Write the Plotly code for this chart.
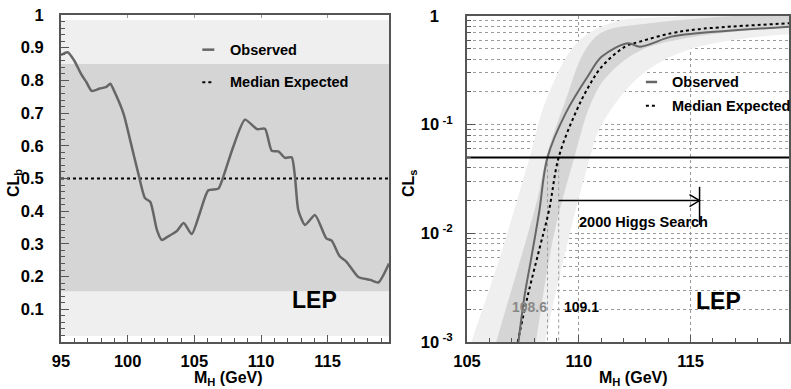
import numpy as np
import plotly.graph_objects as go

# ---------------- data ----------------
# Left panel: CL_b versus Higgs mass
mh_b = [95.0, 95.5, 96.0, 96.5, 96.9, 97.3, 97.9, 98.4, 98.7, 99.05, 99.7, 100.2,
        100.8, 101.3, 101.7, 102.2, 102.55, 103.0, 103.7, 104.2, 104.8, 105.4, 106.05,
        106.8, 107.2, 107.9, 108.8, 109.7, 110.3, 110.8, 111.3, 111.8, 112.3, 112.55,
        112.8, 113.3, 114.05, 114.9, 115.3, 115.9, 116.4, 117.3, 118.2, 118.8, 119.6]
clb_obs = [0.878, 0.886, 0.86, 0.82, 0.795, 0.768, 0.775, 0.78, 0.79, 0.762, 0.697, 0.615,
           0.515, 0.44, 0.428, 0.342, 0.312, 0.322, 0.34, 0.364, 0.33, 0.393, 0.464,
           0.469, 0.509, 0.595, 0.68, 0.651, 0.652, 0.585, 0.583, 0.563, 0.565, 0.504,
           0.403, 0.358, 0.388, 0.317, 0.31, 0.262, 0.246, 0.199, 0.19, 0.182, 0.24]
clb_median = 0.5
clb_band1 = [0.155, 0.85]     # 68% band
clb_band2 = [0.018, 0.985]    # 95% band
mh_b_range = [95, 119.6]

# Right panel: CL_s versus Higgs mass
mh_s_obs = [107.3, 107.57, 107.86, 108.23, 108.6, 109.41, 110.44, 111.03, 112.2,
            112.73, 114.13, 115.3, 119.4]
cls_obs = [0.001, 0.00263, 0.00569, 0.0158, 0.05, 0.127, 0.286, 0.423, 0.561,
           0.522, 0.646, 0.693, 0.798]
mh_s_exp = [107.27, 107.71, 108.23, 108.67, 109.1, 109.85, 110.44, 111.03, 112.07,
            112.73, 114.13, 115.3, 119.4]
cls_exp = [0.001, 0.00263, 0.00708, 0.0164, 0.05, 0.128, 0.224, 0.342, 0.522,
           0.581, 0.693, 0.755, 0.857]

# expected-CLs bands: high-CLs edge and low-CLs edge (mass, CLs)
b2_hi_m = [104.6, 105.2, 106.5, 107.8, 108.55, 109.9, 111.5, 114.0, 120.0]
b2_hi_c = [0.0004, 0.001, 0.0063, 0.05, 0.17, 0.56, 0.87, 0.977, 0.993]
b2_lo_m = [120.0, 119.4, 114.9, 112.65, 110.9, 110.5, 109.6, 108.5, 108.2]
b2_lo_c = [0.67, 0.68, 0.49, 0.27, 0.09, 0.05, 0.01, 0.001, 0.0004]
b1_hi_m = [105.8, 106.31, 108.14, 108.54, 109.42, 110.2, 111.0, 113.0, 120.0]
b1_hi_c = [0.0004, 0.001, 0.0204, 0.05, 0.17, 0.45, 0.7, 0.85, 0.95]
b1_lo_m = [120.0, 119.4, 114.9, 112.65, 111.2, 110.5, 109.8, 108.9, 108.08, 107.8]
b1_lo_c = [0.8, 0.79, 0.63, 0.47, 0.27, 0.15, 0.05, 0.01, 0.001, 0.0004]

cls_limit = 0.05
obs_limit = 108.6
exp_limit = 109.1
search_arrow_m = [109.1, 115.4]
search_arrow_cls = 0.02
mh_s_range = [105, 119.4]

# ---------------- styling ----------------
FONT = "Liberation Sans"
LIGHT = "#efefef"
DARK = "#d5d5d5"
OBS_COLOR = "#666666"
FRAME = "#555555"
GRID = "#9a9a9a"

W, H = 791, 389


def px_x(p):
    return p / W


def px_y(p):
    return 1 - p / H


fig = go.Figure()

# ---- left panel bands ----
for lo, hi, col in [(clb_band2[0], clb_band2[1], LIGHT), (clb_band1[0], clb_band1[1], DARK)]:
    fig.add_trace(go.Scatter(
        x=[mh_b_range[0], mh_b_range[1], mh_b_range[1], mh_b_range[0], mh_b_range[0]],
        y=[lo, lo, hi, hi, lo], fill="toself", fillcolor=col, mode="lines",
        line=dict(width=0), hoverinfo="skip", xaxis="x", yaxis="y"))

fig.add_trace(go.Scatter(x=mh_b_range, y=[clb_median, clb_median], mode="lines",
                         line=dict(color="black", width=2, dash="dot"), xaxis="x", yaxis="y"))
fig.add_trace(go.Scatter(x=mh_b, y=clb_obs, mode="lines",
                         line=dict(color=OBS_COLOR, width=2.5, shape="spline", smoothing=0.6),
                         xaxis="x", yaxis="y"))

# left legend symbols
fig.add_trace(go.Scatter(x=[105.6, 106.5], y=[0.894, 0.894], mode="lines",
                         line=dict(color=OBS_COLOR, width=2.5), xaxis="x", yaxis="y"))
fig.add_trace(go.Scatter(x=[105.6, 106.5], y=[0.794, 0.794], mode="lines",
                         line=dict(color="black", width=2, dash="dot"), xaxis="x", yaxis="y"))

# ---- right panel bands ----
for hm, hc, lm, lc, col in [(b2_hi_m, b2_hi_c, b2_lo_m, b2_lo_c, LIGHT),
                            (b1_hi_m, b1_hi_c, b1_lo_m, b1_lo_c, DARK)]:
    fig.add_trace(go.Scatter(x=hm + lm + [hm[0]], y=hc + lc + [hc[0]], fill="toself",
                             fillcolor=col, mode="lines", line=dict(width=0, shape="spline"),
                             hoverinfo="skip", xaxis="x2", yaxis="y2"))

# limit-crossing markers
for m in (obs_limit, exp_limit):
    fig.add_trace(go.Scatter(x=[m, m], y=[cls_limit, 0.001], mode="lines",
                             line=dict(color=GRID, width=1, dash="dot"), xaxis="x2", yaxis="y2"))

fig.add_trace(go.Scatter(x=mh_s_exp, y=cls_exp, mode="lines",
                         line=dict(color="black", width=2, dash="dot", shape="spline"),
                         xaxis="x2", yaxis="y2"))
fig.add_trace(go.Scatter(x=mh_s_obs, y=cls_obs, mode="lines",
                         line=dict(color=OBS_COLOR, width=2, shape="spline"),
                         xaxis="x2", yaxis="y2"))

# 95% CL line
fig.add_trace(go.Scatter(x=mh_s_range, y=[cls_limit, cls_limit], mode="lines",
                         line=dict(color="black", width=2), xaxis="x2", yaxis="y2"))

# search-reach arrow
a0, a1 = search_arrow_m
fig.add_trace(go.Scatter(x=[a0, a1], y=[search_arrow_cls, search_arrow_cls], mode="lines",
                         line=dict(color="black", width=1.5), xaxis="x2", yaxis="y2"))
fig.add_trace(go.Scatter(x=[a1 - 0.45, a1, a1 - 0.45],
                         y=[search_arrow_cls * 10 ** 0.055, search_arrow_cls,
                            search_arrow_cls * 10 ** -0.055],
                         mode="lines", line=dict(color="black", width=1.5), xaxis="x2", yaxis="y2"))
fig.add_trace(go.Scatter(x=[a1, a1], y=[search_arrow_cls * 10 ** 0.127, search_arrow_cls * 10 ** -0.223],
                         mode="lines", line=dict(color="black", width=1.5), xaxis="x2", yaxis="y2"))

# right legend symbols
fig.add_trace(go.Scatter(x=[113.0, 113.5], y=[0.247, 0.247], mode="lines",
                         line=dict(color=OBS_COLOR, width=2.5), xaxis="x2", yaxis="y2"))
fig.add_trace(go.Scatter(x=[113.0, 113.5], y=[0.149, 0.149], mode="lines",
                         line=dict(color="black", width=2, dash="dot"), xaxis="x2", yaxis="y2"))

tickfont = dict(family=FONT, size=16.5, color="black", weight="bold")
common = dict(showline=True, mirror=True, linecolor=FRAME, linewidth=2, ticks="inside",
              tickcolor=FRAME, zeroline=False, tickfont=tickfont, automargin=False,
              griddash="dot", gridcolor=GRID, gridwidth=1)

minor_log = [k * 10.0 ** e for e in (-3, -2, -1) for k in range(2, 10)]

fig.update_layout(
    width=W, height=H, margin=dict(l=0, r=0, t=0, b=0),
    paper_bgcolor="white", plot_bgcolor="white", showlegend=False,
    xaxis=dict(domain=[px_x(61), px_x(389)], range=mh_b_range, tickvals=[95, 100, 105, 110, 115],
               ticklen=7, showgrid=True, anchor="y", ticklabelstandoff=3,
               minor=dict(ticks="inside", dtick=1, tick0=95, ticklen=4, tickcolor=FRAME), **common),
    yaxis=dict(domain=[px_y(342), px_y(15)], range=[0, 1],
               tickvals=[0.1, 0.2, 0.3, 0.4, 0.5, 0.6, 0.7, 0.8, 0.9, 1.0],
               ticktext=["0.1", "0.2", "0.3", "0.4", "0.5", "0.6", "0.7", "0.8", "0.9", "1"],
               ticklen=8, showgrid=True, anchor="x", ticklabelstandoff=12,
               minor=dict(ticks="inside", dtick=0.02, ticklen=4, tickcolor=FRAME), **common),
    xaxis2=dict(domain=[px_x(467), px_x(789)], range=mh_s_range, tickvals=[105, 110, 115],
                ticklen=7, showgrid=True, anchor="y2", ticklabelstandoff=3,
                minor=dict(ticks="inside", dtick=1, tick0=105, ticklen=4, tickcolor=FRAME), **common),
    yaxis2=dict(domain=[px_y(342), px_y(16)], type="log", range=[-3, 0],
                tickvals=[0.001, 0.01, 0.1, 1],
                ticktext=["10<sup> -3</sup>", "10<sup> -2</sup>", "10<sup> -1</sup>", "1&nbsp;&nbsp;&nbsp;"],
                ticklen=8, showgrid=True, anchor="x2", ticklabelstandoff=9,
                minor=dict(ticks="inside", tickvals=minor_log, ticklen=4, tickcolor=FRAME,
                           showgrid=True, griddash="dot", gridcolor=GRID), **common),
)

ann = []
txt = dict(family=FONT, size=14.5, color="black", weight="bold")
ttl = dict(family=FONT, size=16, color="black", weight="bold")
# axis titles
ann.append(dict(text="M<sub>H</sub> (GeV)", x=px_x(192), y=px_y(378), xref="paper", yref="paper",
                xanchor="left", yanchor="middle", showarrow=False, font=ttl))
ann.append(dict(text="M<sub>H</sub> (GeV)", x=px_x(597), y=px_y(378), xref="paper", yref="paper",
                xanchor="left", yanchor="middle", showarrow=False, font=ttl))
ann.append(dict(text="CL<sub>b</sub>", x=px_x(14), y=px_y(183), xref="paper", yref="paper",
                textangle=-90, xanchor="center", yanchor="middle", showarrow=False, font=ttl))
ann.append(dict(text="CL<sub>s</sub>", x=px_x(409), y=px_y(183), xref="paper", yref="paper",
                textangle=-90, xanchor="center", yanchor="middle", showarrow=False, font=ttl))
# legends
for label, yv in [("Observed", 0.894), ("Median Expected", 0.794)]:
    ann.append(dict(text=label, x=107.5, y=yv, xref="x", yref="y", xanchor="left",
                    yanchor="middle", showarrow=False, font=txt))
for label, yv in [("Observed", 0.247), ("Median Expected", 0.149)]:
    ann.append(dict(text=label, x=114.1, y=np.log10(yv), xref="x2", yref="y2", xanchor="left",
                    yanchor="middle", showarrow=False, font=txt))
# LEP tags
ann.append(dict(text="LEP", x=113.98, y=0.127, xref="x", yref="y", showarrow=False,
                font=dict(family=FONT, size=23, color="black", weight="bold")))
ann.append(dict(text="LEP", x=116.24, y=np.log10(0.0024), xref="x2", yref="y2", showarrow=False,
                font=dict(family=FONT, size=23, color="black", weight="bold")))
# limit values
ann.append(dict(text=f"{obs_limit}", x=obs_limit + 0.05, y=np.log10(0.0021), xref="x2", yref="y2",
                xanchor="right", showarrow=False,
                font=dict(family=FONT, size=14, color="#888888", weight="bold")))
ann.append(dict(text=f"{exp_limit}", x=exp_limit + 0.15, y=np.log10(0.0021), xref="x2", yref="y2",
                xanchor="left", showarrow=False,
                font=dict(family=FONT, size=14, color="black", weight="bold")))
ann.append(dict(text="2000 Higgs Search", x=109.9, y=np.log10(0.0127), xref="x2", yref="y2",
                xanchor="left", showarrow=False, font=txt))
fig.update_layout(annotations=ann)

fig.write_html("out.html")
